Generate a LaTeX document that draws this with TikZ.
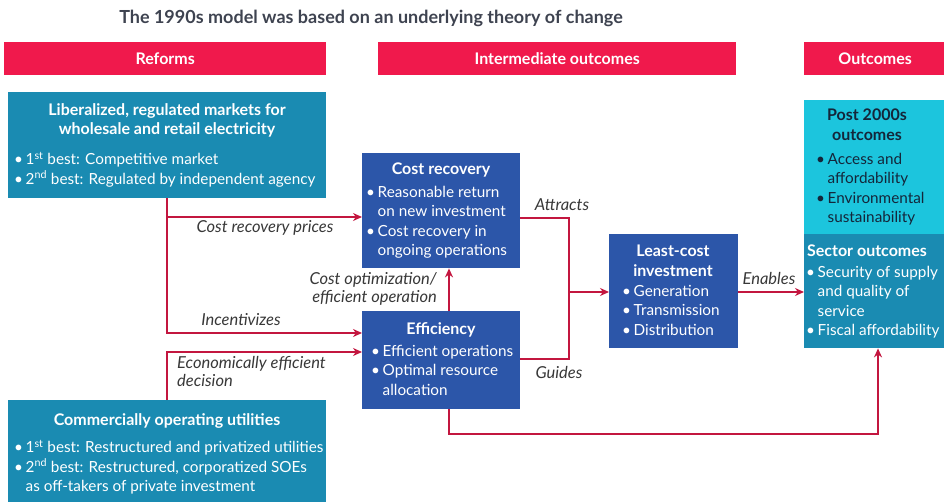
\documentclass[tikz,border=0pt]{standalone}
\usepackage{fontspec}
\setmainfont{Lato}
\usetikzlibrary{arrows.meta,calc}
\definecolor{hdrred}{HTML}{F0194C}
\definecolor{arrred}{HTML}{C3163F}
\definecolor{teal}{HTML}{1A8BB2}
\definecolor{blueb}{HTML}{2C56A9}
\definecolor{cyanb}{HTML}{1CC5DD}
\definecolor{titlegray}{HTML}{3E4350}
\definecolor{lblgray}{HTML}{383838}
\definecolor{darktxt}{HTML}{14263A}
\newcommand\bl{\makebox[0.75em][l]{\textbullet}}
\newcommand\ind{\hspace*{0.75em}}
\newcommand\sufx[1]{\textsuperscript{#1}}
\tikzset{
  hdr/.style={fill=hdrred, text=white, font=\fontsize{16}{18}\selectfont\bfseries, inner sep=0pt},
  boxteal/.style={fill=teal, inner sep=0pt},
  boxblue/.style={fill=blueb, inner sep=0pt},
  boxcyan/.style={fill=cyanb, inner sep=0pt},
  ttl/.style={text=white, font=\fontsize{16}{19.5}\selectfont\bfseries, align=center, inner sep=0pt},
  txt/.style={text=white, font=\fontsize{15.3}{19.5}\selectfont, align=left, inner sep=0pt},
  lbl/.style={text=lblgray, font=\fontsize{16.5}{18.5}\selectfont\itshape, inner sep=0pt},
  arr/.style={draw=arrred, line width=1.6pt, -{Stealth[length=9pt,width=8pt]}},
  ln/.style={draw=arrred, line width=1.6pt}
}
\begin{document}
\begin{tikzpicture}[x=1pt,y=-1pt]
\useasboundingbox (0,0) rectangle (944,502);
% title
\node[text=titlegray, font=\fontsize{18}{20}\selectfont\bfseries, inner sep=0pt] (title) at (371,18) {The 1990s model was based on an underlying theory of change};
% headers
\node[hdr, minimum width=322pt, minimum height=33pt, anchor=north west] (h1) at (4,42) {Reforms};
\node[hdr, minimum width=358pt, minimum height=33pt, anchor=north west] (h2) at (378,42) {Intermediate outcomes};
\node[hdr, minimum width=142pt, minimum height=33pt, anchor=north west] (h3) at (804,42) {Outcomes};
% boxes
\node[boxteal, minimum width=318pt, minimum height=106pt, anchor=north west] (lib) at (8,92) {};
\node[boxteal, minimum width=318pt, minimum height=104pt, anchor=north west] (com) at (8,400) {};
\node[boxblue, minimum width=158pt, minimum height=115pt, anchor=north west] (cost) at (362,153) {};
\node[boxblue, minimum width=158pt, minimum height=98pt, anchor=north west] (eff) at (362,311) {};
\node[boxblue, minimum width=129pt, minimum height=114pt, anchor=north west] (lci) at (609,234) {};
\node[boxcyan, minimum width=142pt, minimum height=134pt, anchor=north west] (post) at (804,100) {};
\node[boxteal, minimum width=142pt, minimum height=114pt, anchor=north west] (sec) at (804,234) {};
% box texts
\node[ttl, anchor=north] (libt) at (167,103) {Liberalized, regulated markets for\\wholesale and retail electricity};
\node[txt, anchor=north west] (libb) at (14,152) {\bl 1\sufx{st} best: Competitive market\\\bl 2\sufx{nd} best: Regulated by independent agency};
\node[ttl, anchor=north] (comt) at (167,413) {Commercially operating utilities};
\node[txt, anchor=north west] (comb) at (14,440) {\bl 1\sufx{st} best: Restructured and privatized utilities\\\bl 2\sufx{nd} best: Restructured, corporatized SOEs\\\ind as off-takers of private investment};
\node[ttl, anchor=north] (costt) at (441,163) {Cost recovery};
\node[txt, anchor=north west] (costb) at (366,186) {\bl Reasonable return\\\ind on new investment\\\bl Cost recovery in\\\ind ongoing operations};
\node[ttl, anchor=north] (efft) at (441,322) {Efficiency};
\node[txt, anchor=north west] (effb) at (371,345) {\bl Efficient operations\\\bl Optimal resource\\\ind allocation};
\node[ttl, anchor=north] (lcit) at (673,245) {Least-cost\\investment};
\node[txt, anchor=north west] (lcib) at (622,285) {\bl Generation\\\bl Transmission\\\bl Distribution};
\node[ttl, text=darktxt, anchor=north] (postt) at (867,109) {Post 2000s\\outcomes};
\node[txt, text=darktxt, anchor=north west] (postb) at (816,153) {\bl Access and\\\ind affordability\\\bl Environmental\\\ind sustainability};
\node[ttl, anchor=north] (sect) at (867,245) {Sector outcomes};
\node[txt, anchor=north west] (secb) at (806,266) {\bl Security of supply\\\ind and quality of\\\ind service\\\bl Fiscal affordability};
% connectors
\coordinate (j1) at (lib.south);
\draw[arr] (j1) |- (cost.west |- 0,217);
\draw[arr] (j1) |- (eff.west |- 0,333);
\draw[arr] (com.north) |- (eff.west |- 0,352);
\draw[arr] (eff.north -| 449,0) -- (cost.south -| 449,0);
\coordinate (m) at (569,292);
\draw[ln] (cost.east |- 0,218) -| (m);
\draw[ln] (eff.east |- 0,359) -| (m);
\draw[arr] (m) -- (lci.west |- m);
\draw[arr] (lci.east |- m) -- (sec.west |- m);
\coordinate (lp) at (449,434);
\draw[arr] (eff.south -| lp) -- (lp) -| (sec.south -| 878,0);
% labels
\node[lbl] (l1) at (265,228) {Cost recovery prices};
\node[lbl] (l2) at (241,320) {Incentivizes};
\node[lbl, align=left, anchor=north west] (l3) at (177,356) {Economically efficient\\decision};
\node[lbl, align=right, anchor=north east] (l4) at (437,272) {Cost optimization/\\efficient operation};
\node[lbl] (l5) at (562,205) {Attracts};
\node[lbl] (l6) at (559,372) {Guides};
\node[lbl] (l7) at (769,278) {Enables};
\end{tikzpicture}
\end{document}
